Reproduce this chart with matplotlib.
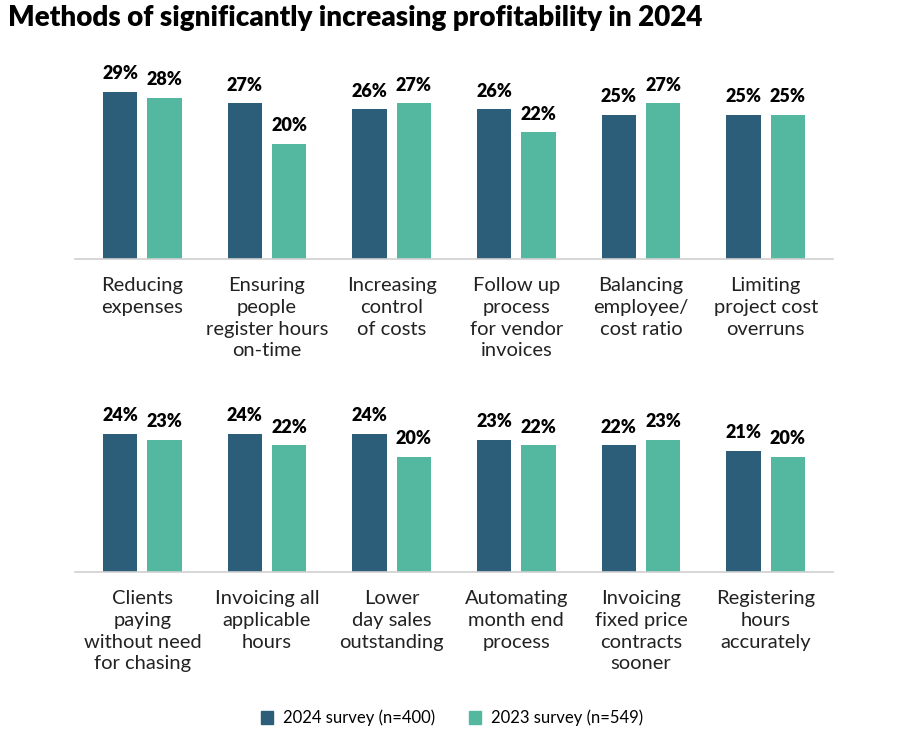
import matplotlib.pyplot as plt
import numpy as np

# data
top_categories = ['Reducing\nexpenses', 'Ensuring\npeople\nregister hours\non-time',
                  'Increasing\ncontrol\nof costs', 'Follow up\nprocess\nfor vendor\ninvoices',
                  'Balancing\nemployee/\ncost ratio', 'Limiting\nproject cost\noverruns']
top_2024 = [29, 27, 26, 26, 25, 25]
top_2023 = [28, 20, 27, 22, 27, 25]

bottom_categories = ['Clients\npaying\nwithout need\nfor chasing', 'Invoicing all\napplicable\nhours',
                     'Lower\nday sales\noutstanding', 'Automating\nmonth end\nprocess',
                     'Invoicing\nfixed price\ncontracts\nsooner', 'Registering\nhours\naccurately']
bottom_2024 = [24, 24, 24, 23, 22, 21]
bottom_2023 = [23, 22, 20, 22, 23, 20]

series_labels = ['2024 survey (n=400)', '2023 survey (n=549)']

DARK = '#2c5e7a'
TEAL = '#53b89f'
FONT = 'Lato'

fig = plt.figure(figsize=(9, 7.35), dpi=100)

W, H = 900, 735
px_per_pct = 5.76


def draw_row(baseline_px, cats, v24, v23):
    height_px = 200
    ax = fig.add_axes([75 / W, (H - baseline_px) / H, 758 / W, height_px / H])
    x = np.arange(len(cats)) * 1.0
    bw = 0.275
    off = 0.178
    ax.bar(x - off, v24, bw, color=DARK)
    ax.bar(x + off, v23, bw, color=TEAL)
    ax.set_xlim(-0.54, 5.54)
    ax.set_ylim(0, height_px / px_per_pct)
    for xi, a, b in zip(x, v24, v23):
        ax.annotate(f'{a}%', (xi - off, a), xytext=(0, 7), textcoords='offset points',
                    ha='center', va='bottom', fontsize=13, fontweight='heavy', family=FONT)
        ax.annotate(f'{b}%', (xi + off, b), xytext=(0, 7), textcoords='offset points',
                    ha='center', va='bottom', fontsize=13, fontweight='heavy', family=FONT)
    ax.set_xticks(x)
    ax.set_xticklabels(cats, fontsize=14.5, family=FONT, color='#222222', linespacing=1.34)
    ax.tick_params(axis='x', length=0, pad=13)
    ax.set_yticks([])
    for s in ['top', 'right', 'left']:
        ax.spines[s].set_visible(False)
    ax.spines['bottom'].set_color('#d0d0d0')
    ax.spines['bottom'].set_linewidth(1.2)
    ax.patch.set_alpha(0)
    return ax


draw_row(259, top_categories, top_2024, top_2023)
draw_row(572, bottom_categories, bottom_2024, bottom_2023)

fig.text(8 / W, 1 - 18 / H, 'Methods of significantly increasing profitability in 2024',
         fontsize=20, fontweight='heavy', family=FONT, va='center', ha='left')

handles = [plt.Rectangle((0, 0), 1, 1, color=DARK), plt.Rectangle((0, 0), 1, 1, color=TEAL)]
fig.legend(handles, series_labels, loc='center', bbox_to_anchor=(452 / W, 1 - 718 / H),
           ncol=2, frameon=False, prop={'family': FONT, 'size': 12},
           handlelength=0.75, handleheight=0.75, columnspacing=2.0, handletextpad=0.6)

fig.savefig('out.png', dpi=100)
